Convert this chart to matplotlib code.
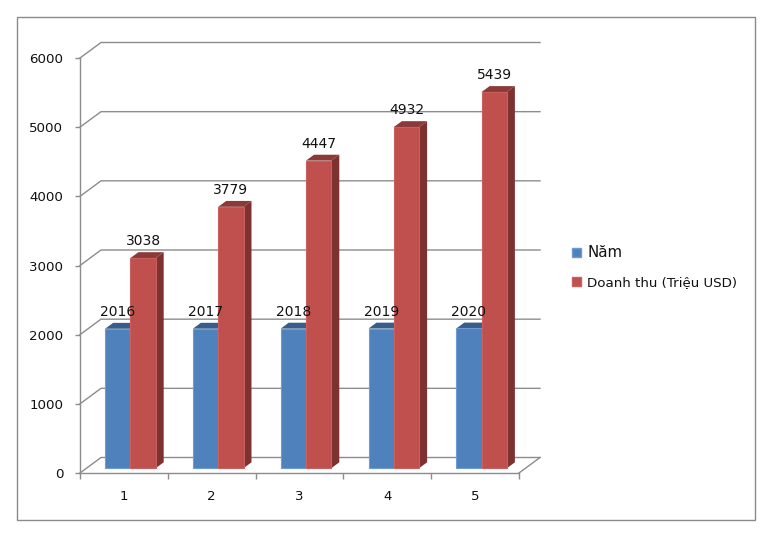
import matplotlib
matplotlib.use("Agg")
import matplotlib.pyplot as plt
from matplotlib.patches import Patch, Polygon, Rectangle

categories = [1, 2, 3, 4, 5]
years = [2016, 2017, 2018, 2019, 2020]
revenue = [3038, 3779, 4447, 4932, 5439]
y_ticks = [0, 1000, 2000, 3000, 4000, 5000, 6000]
series_names = ["Năm", "Doanh thu (Triệu USD)"]

W, H = 772, 533
LEFT, RIGHT, TOP, BOTTOM = 80, 519, 58, 473   # front plane of the plot, in px
DEPTH_X, DEPTH_Y = 21, 15.5                   # depth of the 3d box, in px

BLUE, BLUE_TOP = "#4F81BD", "#385D8A"
RED, RED_TOP, RED_SIDE = "#C0504D", "#8C3A38", "#7D3130"
GRID = "#8C8C8C"
TEXT = "#111111"

fig = plt.figure(figsize=(W / 100, H / 100), dpi=100, facecolor="white")
ax = fig.add_axes([LEFT / W, 1 - BOTTOM / H, (RIGHT - LEFT) / W, (BOTTOM - TOP) / H])
ax.set_xlim(0.5, 5.5)
ax.set_ylim(0, 6000)
ax.patch.set_visible(False)

px_x = 5 / (RIGHT - LEFT)
px_y = 6000 / (BOTTOM - TOP)


def proj(x, y, z):
    """Data point pushed z of the way into the box (fake 3d)."""
    return x + z * DEPTH_X * px_x, y + z * DEPTH_Y * px_y


# ── Walls and floor ───────────────────────────────────────────────────────────
for tick in y_ticks:
    xs, ys = zip(proj(0.5, tick, 0), proj(0.5, tick, 1), proj(5.5, tick, 1))
    ax.plot(xs, ys, color=GRID, lw=1, clip_on=False, zorder=1)
xs, ys = zip(proj(5.5, 0, 0), proj(5.5, 0, 1))
ax.plot(xs, ys, color=GRID, lw=1, clip_on=False, zorder=1)

# ── Bars ──────────────────────────────────────────────────────────────────────
bar_w = 25.3 / ((RIGHT - LEFT) / 5)
z_front, z_back = 0.31, 0.69


def draw_bars(xpos, values, face, top, side, edge):
    x0, base = proj(0, 0, z_front)
    ax.bar([x + x0 for x in xpos], values, bar_w, bottom=base, color=face,
           edgecolor=edge, linewidth=0.8, clip_on=False, zorder=3)
    for x, v in zip(xpos, values):
        l, r = x - bar_w / 2, x + bar_w / 2
        ax.add_patch(Polygon([proj(l, v, z_front), proj(r, v, z_front),
                              proj(r, v, z_back), proj(l, v, z_back)],
                             facecolor=top, edgecolor="none", clip_on=False, zorder=2.5))
        ax.add_patch(Polygon([proj(r, 0, z_front), proj(r, v, z_front),
                              proj(r, v, z_back), proj(r, 0, z_back)],
                             facecolor=side, edgecolor="none", clip_on=False, zorder=2.5))


blue_x = [c - bar_w / 2 for c in categories]
red_x = [c + bar_w / 2 for c in categories]
draw_bars(blue_x, years, BLUE, BLUE_TOP, BLUE_TOP, "#6E9BD1")
draw_bars(red_x, revenue, RED, RED_TOP, RED_SIDE, "#C9605D")

# ── Value labels ──────────────────────────────────────────────────────────────
for x, v in zip(blue_x + red_x, years + revenue):
    ax.annotate(str(v), xy=proj(x, v, z_front), xytext=(0, 12), textcoords="offset points",
                ha="center", va="center", fontsize=10, color=TEXT, zorder=5, annotation_clip=False)

# ── Axes ──────────────────────────────────────────────────────────────────────
for name in ("top", "right"):
    ax.spines[name].set_visible(False)
for name in ("left", "bottom"):
    ax.spines[name].set_color(GRID)
    ax.spines[name].set_linewidth(1)

ax.set_yticks(y_ticks)
ax.tick_params(axis="y", length=3.6, width=1, color=GRID, pad=8.5, labelsize=9.6, labelcolor=TEXT)
ax.set_xticks([c - 0.5 for c in categories] + [categories[-1] + 0.5])
ax.set_xticklabels([])
ax.set_xticks(categories, minor=True)
ax.set_xticklabels([str(c) for c in categories], minor=True)
ax.tick_params(axis="x", which="major", length=4.3, width=1, color=GRID)
ax.tick_params(axis="x", which="minor", length=0, pad=12, labelsize=9.6, labelcolor=TEXT)

# ── Legend ────────────────────────────────────────────────────────────────────
handles = [Patch(facecolor=BLUE, edgecolor="#6E9BD1"), Patch(facecolor=RED, edgecolor="#C9605D")]
leg = fig.legend(handles, series_names, loc="center left",
                 bbox_to_anchor=(572 / W, 1 - 267 / H), frameon=False, fontsize=9.6,
                 handlelength=0.7, handleheight=0.7, handletextpad=0.45,
                 labelspacing=1.2, borderpad=0, borderaxespad=0)
leg.get_texts()[0].set_fontsize(10.8)
for t in leg.get_texts():
    t.set_color(TEXT)

# ── Chart border ──────────────────────────────────────────────────────────────
fig.add_artist(Rectangle((17 / W, 1 - 520 / H), (755 - 17) / W, (520 - 17) / H,
                         transform=fig.transFigure, fill=False, edgecolor="#8A8A8A", lw=1))

fig.savefig("out.png", dpi=100)
